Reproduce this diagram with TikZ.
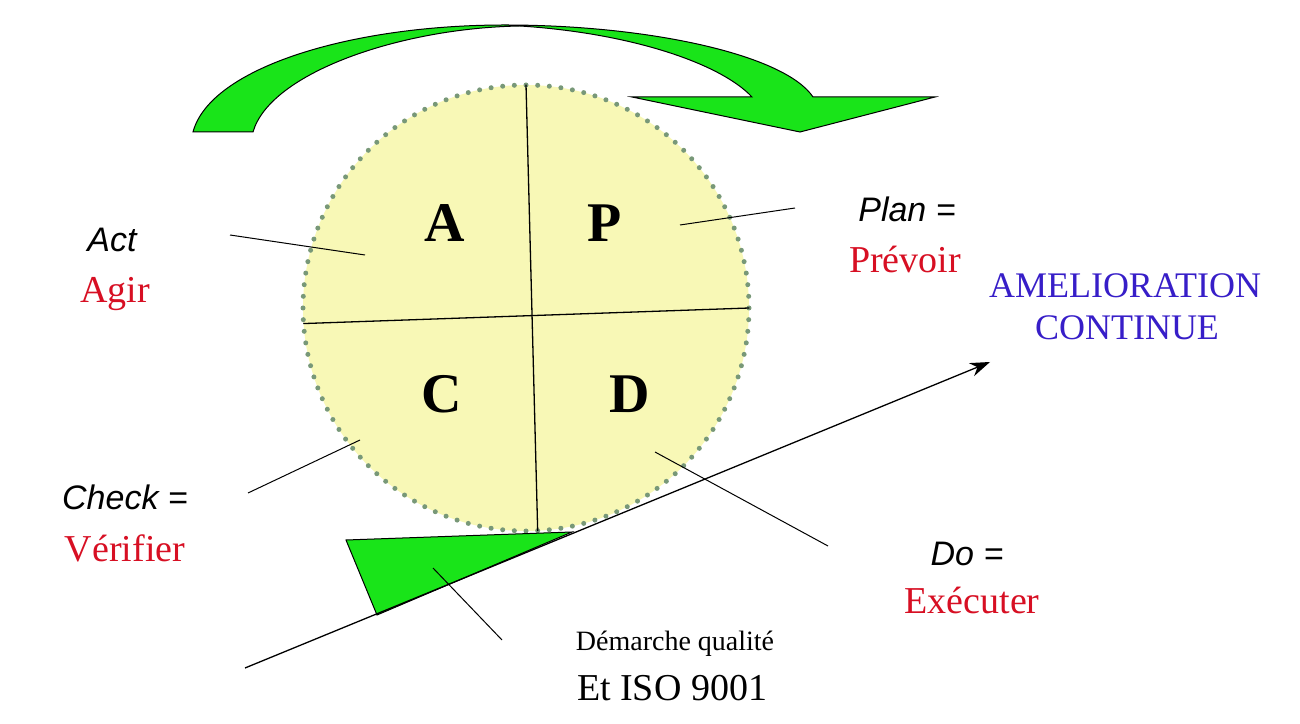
\documentclass[tikz,border=0pt]{standalone}
\usepackage{fontspec}
\setmainfont{Liberation Serif}
\newfontfamily\obliquefont{Liberation Sans}
\usetikzlibrary{arrows.meta}

\definecolor{loopgreen}{RGB}{25,228,25}
\definecolor{wheelfill}{RGB}{248,248,182}
\definecolor{wheeldots}{RGB}{120,152,120}
\definecolor{frred}{RGB}{215,15,35}
\definecolor{pdcablue}{RGB}{55,30,200}

\begin{document}
\begin{tikzpicture}[x=1pt,y=1pt,>={Stealth[length=20pt,width=14pt]},semithick]
	\tikzstyle{letter}=[font=\fontsize{56}{56}\selectfont\bfseries,anchor=base]
	\tikzstyle{english}=[font=\fontsize{34}{34}\selectfont\obliquefont\itshape,anchor=base]
	\tikzstyle{french}=[font=\fontsize{38}{38}\selectfont,text=frred,anchor=base]
	\tikzstyle{leader}=[line width=1pt]

	\useasboundingbox (0,0) rectangle (1300,723);

	% curved arrow on top
	\filldraw[fill=loopgreen,draw=black,line width=1pt] (193,591) .. controls (210,655) and (350,698) .. (505,698)
		.. controls (650,698) and (785,668) .. (813,626) -- (935,626) -- (800,591) -- (632,626) -- (752,626)
		.. controls (720,660) and (630,690) .. (520,697) .. controls (400,695) and (270,650) .. (253,591) -- cycle;

	% the wheel
	\node[circle,minimum size=446pt,fill=wheelfill] (wheel) at (526,415) {};
	\foreach \a in {0,3,...,357}
		\fill[wheeldots] (wheel.center) ++(\a:223) circle (2.5pt);
	\draw[line width=1.3pt] (wheel.90) -- (wheel.-87);
	\draw[line width=1.3pt] (wheel.184) -- (wheel.0);

	\node[letter] (A) at (445,481) {A};
	\node[letter] (P) at (605,481) {P};
	\node[letter] (C) at (442,310) {C};
	\node[letter] (D) at (630,310) {D};

	% wedge and trend
	\coordinate (trendstart) at (245,55);
	\coordinate (trendend) at (990,361);
	\filldraw[fill=loopgreen,draw=black,line width=1pt] (346,183) -- (572,191) -- (377,108) -- cycle;
	\draw[->,line width=1.3pt] (trendstart) -- (trendend);

	% labels
	\node[english] (act) at (112,471) {Act};
	\node[french] (agir) at (115,420) {Agir};
	\node[english] (plan) at (907,501) {Plan =};
	\node[french] (prevoir) at (905,450) {Prévoir};
	\node[english] (check) at (125,213) {Check =};
	\node[french] (verifier) at (125,162) {Vérifier};
	\node[english] (do) at (967,158) {Do =};
	\node[french] (executer) at (972,110) {Exécuter};
	\node[font=\fontsize{36}{36}\selectfont,text=pdcablue,anchor=base] (amelio) at (1125,425) {AMELIORATION};
	\node[font=\fontsize{36}{36}\selectfont,text=pdcablue,anchor=base] (continue) at (1127,383) {CONTINUE};
	\node[font=\fontsize{28}{28}\selectfont,anchor=base] (demarche) at (675,73) {Démarche qualité};
	\node[font=\fontsize{38}{38}\selectfont,anchor=base] (iso) at (672,23) {Et ISO 9001};

	% leaders
	\coordinate (actfoot) at (230,488);
	\coordinate (acthead) at (365,468);
	\coordinate (planfoot) at (795,515);
	\coordinate (planhead) at (680,498);
	\coordinate (checkfoot) at (248,230);
	\coordinate (checkhead) at (360,283);
	\coordinate (dofoot) at (828,177);
	\coordinate (dohead) at (655,271);
	\coordinate (isofoot) at (502,83);
	\coordinate (isohead) at (433,155);
	\draw[leader] (actfoot) -- (acthead);
	\draw[leader] (planfoot) -- (planhead);
	\draw[leader] (checkfoot) -- (checkhead);
	\draw[leader] (dofoot) -- (dohead);
	\draw[leader] (isofoot) -- (isohead);
\end{tikzpicture}
\end{document}
